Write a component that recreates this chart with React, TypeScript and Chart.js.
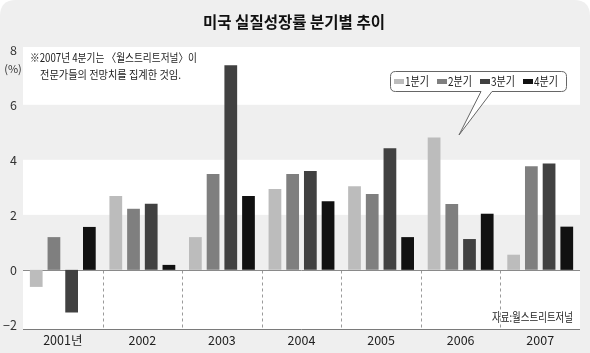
import React, { useEffect, useRef } from "react";
import { Chart, registerables } from "chart.js";

Chart.register(...registerables);

const years = ["2001년", "2002", "2003", "2004", "2005", "2006", "2007"];
const seriesNames = ["1분기", "2분기", "3분기", "4분기"];
const q1 = [-0.62, 2.68, 1.19, 2.94, 3.04, 4.81, 0.55];
const q2 = [1.19, 2.22, 3.48, 3.48, 2.76, 2.39, 3.77];
const q3 = [-1.55, 2.4, 7.44, 3.59, 4.42, 1.12, 3.87];
const q4 = [1.56, 0.18, 2.68, 2.49, 1.19, 2.04, 1.57];
const yTicks = [-2, 0, 2, 4, 6, 8];
const colors = ["#bcbcbc", "#7f7f7f", "#414141", "#111111"];

const title = "미국 실질성장률 분기별 추이";
const noteLines = ["※2007년 4분기는 〈월스트리트저널〉이", "전문가들의 전망치를 집계한 것임."];
const sourceText = "자료:월스트리트저널";
const unitText = "(%)";

const FONT = '"Noto Sans CJK KR", "Noto Sans", sans-serif';

const decorPlugin = {
  id: "decor",
  beforeDraw(chart: any) {
    const { ctx, chartArea: a, width, height } = chart;
    const y = chart.scales.y;
    ctx.save();
    ctx.fillStyle = "#ffffff";
    ctx.fillRect(0, 0, width, height);
    const r = 16;
    ctx.fillStyle = "#efefef";
    ctx.beginPath();
    ctx.moveTo(r, 0);
    ctx.lineTo(width - r, 0);
    ctx.quadraticCurveTo(width, 0, width, r);
    ctx.lineTo(width, height);
    ctx.lineTo(0, height);
    ctx.lineTo(0, r);
    ctx.quadraticCurveTo(0, 0, r, 0);
    ctx.fill();
    const bands = [
      [y.max, 6],
      [4, 2],
      [0, y.min],
    ];
    ctx.fillStyle = "#ffffff";
    for (const [top, bot] of bands) {
      const t = y.getPixelForValue(top);
      const b = y.getPixelForValue(bot);
      ctx.fillRect(a.left, t, a.right - a.left, b - t);
    }
    ctx.restore();
  },
  beforeDatasetsDraw(chart: any) {
    const { ctx, chartArea: a } = chart;
    const y = chart.scales.y;
    ctx.save();
    const y0 = Math.round(y.getPixelForValue(0)) + 0.5;
    ctx.strokeStyle = "#9a9a9a";
    ctx.lineWidth = 1;
    ctx.setLineDash([3, 3]);
    const n = years.length;
    const gw = (a.right - a.left) / n;
    for (let i = 1; i < n; i++) {
      const px = Math.round(a.left + gw * i) + 0.5;
      ctx.beginPath();
      ctx.moveTo(px, y0);
      ctx.lineTo(px, a.bottom);
      ctx.stroke();
    }
    ctx.setLineDash([]);
    ctx.strokeStyle = "#8a8a8a";
    ctx.beginPath();
    ctx.moveTo(a.left, y0);
    ctx.lineTo(a.right, y0);
    ctx.stroke();
    ctx.strokeStyle = "#7a7a7a";
    ctx.beginPath();
    ctx.moveTo(a.left, Math.round(a.bottom) + 0.5);
    ctx.lineTo(a.right, Math.round(a.bottom) + 0.5);
    ctx.stroke();
    ctx.restore();
  },
  afterDraw(chart: any) {
    const { ctx } = chart;
    ctx.save();
    ctx.fillStyle = "#111";
    ctx.font = `bold 16px ${FONT}`;
    ctx.textAlign = "center";
    ctx.textBaseline = "middle";
    ctx.fillText(title, 294, 22, 182);
    ctx.font = `11px ${FONT}`;
    ctx.fillStyle = "#333";
    ctx.fillText(unitText, 13, 69);
    ctx.textAlign = "left";
    ctx.font = `11.5px ${FONT}`;
    ctx.fillStyle = "#222";
    ctx.fillText(noteLines[0], 30, 58, 167);
    ctx.fillText(noteLines[1], 40, 75, 141);
    ctx.textAlign = "right";
    ctx.font = `12px ${FONT}`;
    ctx.fillText(sourceText, 573, 317, 81);
    const bx = 390.5, by = 71.5, bw = 176, bh = 20, rr = 5;
    ctx.beginPath();
    ctx.moveTo(bx + rr, by);
    ctx.lineTo(bx + bw - rr, by);
    ctx.quadraticCurveTo(bx + bw, by, bx + bw, by + rr);
    ctx.lineTo(bx + bw, by + bh - rr);
    ctx.quadraticCurveTo(bx + bw, by + bh, bx + bw - rr, by + bh);
    ctx.lineTo(492, by + bh);
    ctx.lineTo(459, 135);
    ctx.lineTo(481, by + bh);
    ctx.lineTo(bx + rr, by + bh);
    ctx.quadraticCurveTo(bx, by + bh, bx, by + bh - rr);
    ctx.lineTo(bx, by + rr);
    ctx.quadraticCurveTo(bx, by, bx + rr, by);
    ctx.closePath();
    ctx.fillStyle = "#ffffff";
    ctx.fill();
    ctx.strokeStyle = "#666";
    ctx.lineWidth = 1;
    ctx.stroke();
    ctx.font = `12px ${FONT}`;
    ctx.textAlign = "left";
    ctx.textBaseline = "middle";
    chart.data.datasets.forEach((ds: any, i: number) => {
      const ix = 394 + i * 43;
      ctx.fillStyle = ds.backgroundColor;
      ctx.fillRect(ix, 79, 10, 5);
      ctx.fillStyle = "#222";
      ctx.fillText(ds.label, ix + 11, 81.5, 24);
    });
    ctx.restore();
  },
};

export default function App() {
  const ref = useRef<HTMLCanvasElement>(null);
  useEffect(() => {
    document.body.style.margin = "0";
    const series = [q1, q2, q3, q4];
    const chart = new Chart(ref.current as HTMLCanvasElement, {
      type: "bar",
      data: {
        labels: years,
        datasets: series.map((d, i) => ({
          label: seriesNames[i],
          data: d,
          backgroundColor: colors[i],
          borderWidth: 0,
          categoryPercentage: 0.89,
          barPercentage: 0.72,
        })),
      },
      options: {
        responsive: false,
        animation: false,
        devicePixelRatio: 1,
        layout: { padding: { top: 47, right: 10, left: 0, bottom: 0 } },
        plugins: { legend: { display: false }, tooltip: { enabled: false }, title: { display: false } },
        scales: {
          x: {
            grid: { display: false, drawTicks: false },
            border: { display: false },
            ticks: { color: "#222", font: { family: FONT, size: 12.5 }, padding: 4 },
            afterFit: (s: any) => {
              s.height = 24;
            },
          },
          y: {
            min: -2.15,
            max: 8.1,
            grid: { display: false, drawTicks: false },
            border: { display: false },
            afterBuildTicks: (s: any) => {
              s.ticks = yTicks.map((v) => ({ value: v }));
            },
            ticks: {
              color: "#333",
              font: { family: FONT, size: 12.5 },
              padding: 6,
              callback: (v: any) => (Number(v) < 0 ? "−" + Math.abs(Number(v)) : String(v)),
            },
            afterFit: (s: any) => {
              s.width = 23;
            },
          },
        },
      },
      plugins: [decorPlugin],
    });
    return () => chart.destroy();
  }, []);
  return (
    <div style={{ position: "absolute", left: 0, top: 0, width: 590, height: 353 }}>
      <canvas ref={ref} width={590} height={353} style={{ width: 590, height: 353, display: "block" }} />
    </div>
  );
}
